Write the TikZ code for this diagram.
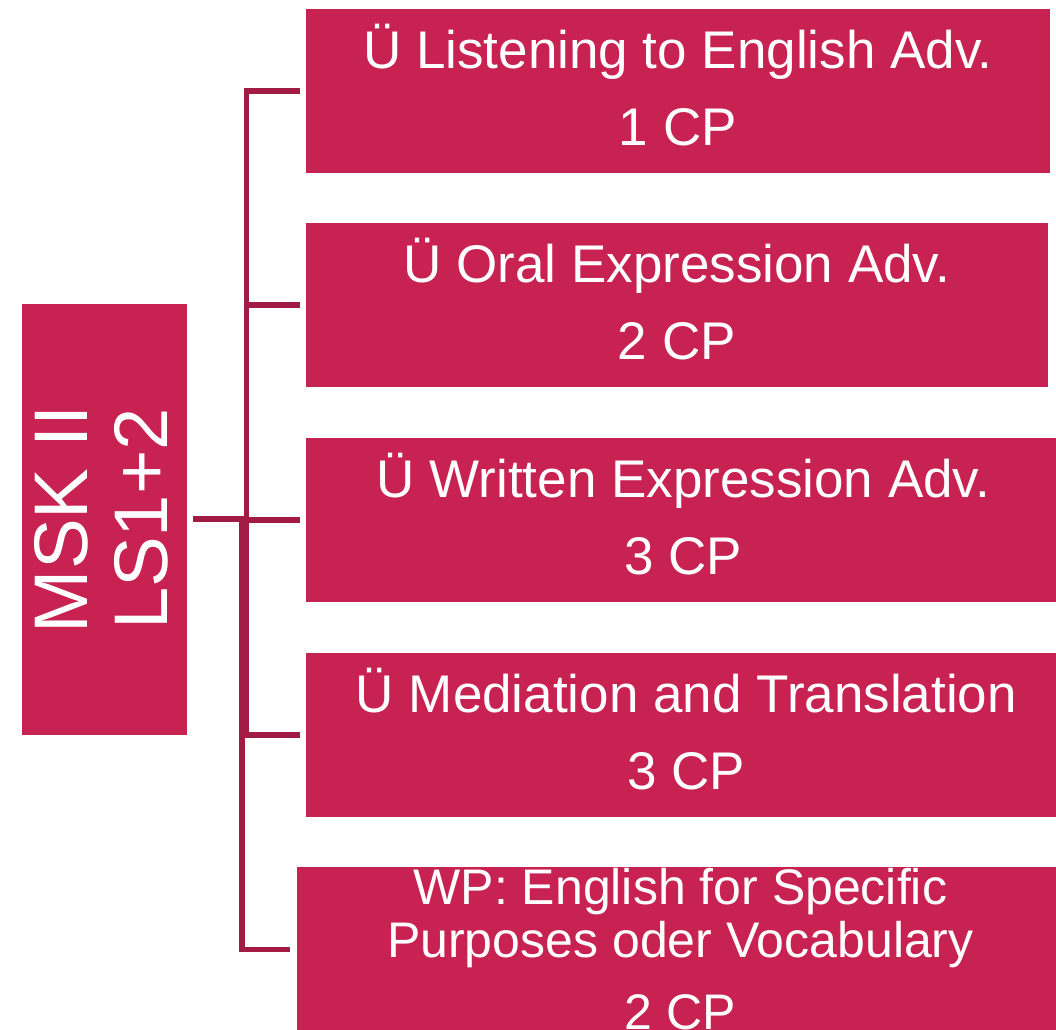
\documentclass[tikz,border=0pt]{standalone}
\usepackage{fontspec}
\setmainfont{Liberation Sans}
\definecolor{boxred}{HTML}{C72252}
\definecolor{linered}{HTML}{A21B45}
\begin{document}
\begin{tikzpicture}[x=1pt,y=-1pt,
  box/.style={fill=boxred, draw=white, line width=0.8pt, text=white, align=center,
    inner sep=0pt, font=\fontsize{53}{77}\selectfont},
  childbox/.style={box, anchor=north west, minimum height=165, text depth=13pt},
  conn/.style={draw=linered, line width=5.5pt}]
\useasboundingbox (0,0) rectangle (1056,1029);
% root (rotated: its south side faces right)
\node[box, rotate=90, minimum width=432, minimum height=166, text depth=7pt,
      font=\fontsize{76}{80}\selectfont] (root) at (104,519) {MSK II\\LS1+2};
% children
\node[childbox, minimum width=745] (c1) at (305,8)
  {Ü Listening to English Adv.\\1 CP};
\node[childbox, minimum width=743] (c2) at (305,222)
  {Ü Oral Expression Adv.\\2 CP};
\node[childbox, minimum width=756] (c3) at (305,437)
  {Ü Written Expression Adv.\\3 CP};
\node[childbox, minimum width=762] (c4) at (305,652)
  {Ü Mediation and Translation\\3 CP};
\node[box, anchor=north west, minimum width=768, minimum height=166,
      font=\fontsize{50}{53}\selectfont] (c5) at (296,866)
  {WP: English for Specific\\Purposes oder Vocabulary\\[19pt]2 CP};
% connectors
\coordinate (rootout) at ([xshift=6pt]root.south);
\draw[conn] (rootout) -- ++(53,0) |- ([xshift=-5pt]c1.west);
\draw[conn] (rootout) -- ++(53,0) |- ([xshift=-5pt]c2.west);
\draw[conn] (rootout) -- ++(53,0) |- ([xshift=-5pt]c3.west);
\draw[conn] (rootout) -- ++(53,0) |- ([xshift=-5pt]c4.west);
\draw[conn] (rootout) -- ++(48.5,0) |- ([xshift=-6pt]c5.west);
\end{tikzpicture}
\end{document}
